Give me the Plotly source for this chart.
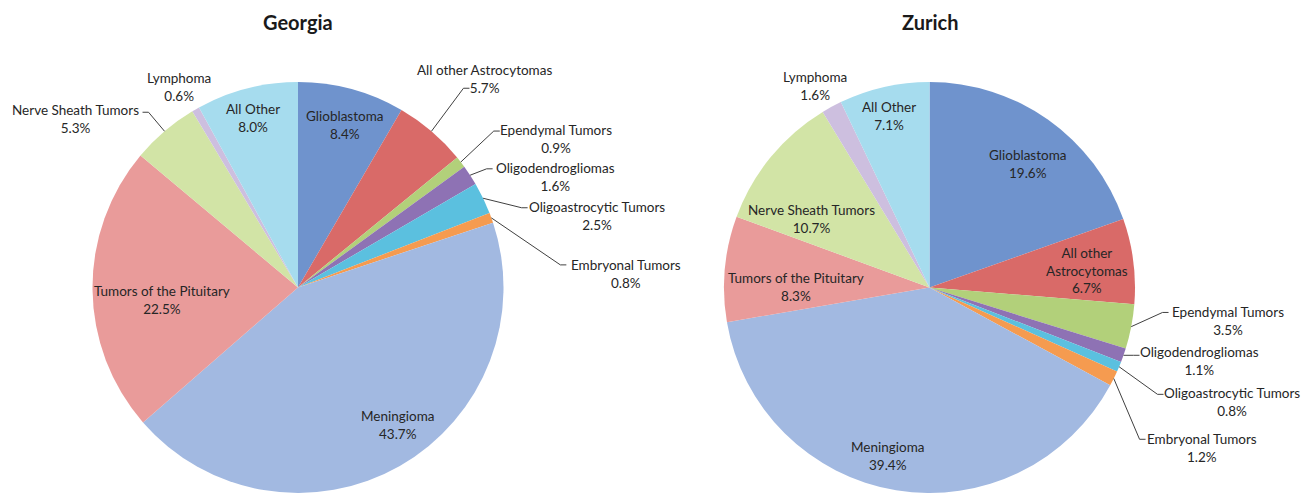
import math
import plotly.graph_objects as go

W, H = 1309, 493

categories = ["Glioblastoma", "All other Astrocytomas", "Ependymal Tumors", "Oligodendrogliomas",
              "Oligoastrocytic Tumors", "Embryonal Tumors", "Meningioma", "Tumors of the Pituitary",
              "Nerve Sheath Tumors", "Lymphoma", "All Other"]
georgia_pct = [8.4, 5.7, 0.9, 1.6, 2.5, 0.8, 43.7, 22.5, 5.3, 0.6, 8.0]
zurich_pct = [19.6, 6.7, 3.5, 1.1, 0.8, 1.2, 39.4, 8.3, 10.7, 1.6, 7.1]
titles = ["Georgia", "Zurich"]

colors = ["#6F93CD", "#D96A68", "#B2D07A", "#8E72B4", "#5BC0DF", "#F59B50",
          "#A2B9E1", "#E99B9A", "#D2E4A6", "#CDBFDF", "#A6DCEE"]

FONT = "Lato"
TXT = "#262626"

# label placement styles (in: radius fraction + nudge; out: text / leader offsets from slice edge)
georgia_lbl = [
    dict(k=0.82, n=(3, 0)),
    dict(t=(53, -52), l=(38, -43)),
    dict(t=(95, -23), l=(39, -31)),
    dict(t=(85.5, 1.6), l=(22.5, -6.4)),
    dict(t=(113.5, 18), l=(44.5, 9.5)),
    dict(t=(135, 56), l=(75, 47)),
    dict(k=0.771, n=(21, 0)),
    dict(k=0.66, n=(0, 11)),
    dict(t=(-89, -12), l=(-22, -19)),
    dict(t=(-17, -22)),
    dict(k=0.85, n=(-2, 0)),
]
zurich_lbl = [
    dict(k=0.734, n=(11, 0)),
    dict(k=0.771, n=(0, 3), name="All other<br>Astrocytomas"),
    dict(t=(96.3, -5.2), l=(37.3, -14.2)),
    dict(t=(76, 6), l=(16, 0)),
    dict(t=(112.4, 35), l=(44.4, 27.6)),
    dict(t=(87.8, 69.8), l=(31.8, 60.8)),
    dict(k=0.831, n=(-14, 0)),
    dict(k=0.651, n=(0, 11.7)),
    dict(k=0.745, n=(0, 28.5)),
    dict(t=(-17, -21)),
    dict(k=0.856, n=(-2, 0)),
]

# pie domains in pixels (x0, x1), top edge of pies
top_px = 82
domains_px = [(92.5, 503.5), (724.0, 1135.0)]

fig = go.Figure()
annotations = []
shapes = []

def to_paper(px, py):
    return px / W, 1 - py / H

for pi, (vals, lbls, title, (x0, x1)) in enumerate(zip([georgia_pct, zurich_pct],
                                                       [georgia_lbl, zurich_lbl], titles, domains_px)):
    ydom = [0.0, 1 - top_px / H]
    fig.add_trace(go.Pie(
        labels=categories, values=vals, sort=False, direction="clockwise", rotation=0,
        marker=dict(colors=colors, line=dict(width=0)), textinfo="none",
        domain=dict(x=[x0 / W, x1 / W], y=ydom), showlegend=False, hoverinfo="label+percent",
    ))
    cx = (x0 + x1) / 2
    r = (H - top_px) / 2
    cy = H - r
    total = sum(vals)
    cum = 0.0
    for i, v in enumerate(vals):
        mid = (cum + v / 2) / total
        cum += v
        ang = 2 * math.pi * mid
        sx, sy = math.sin(ang), -math.cos(ang)
        spec = lbls[i]
        name = spec.get("name", categories[i])
        text = f"{name}<br>{v:.1f}%"
        if "k" in spec:
            tx = cx + spec["k"] * r * sx + spec["n"][0]
            ty = cy + spec["k"] * r * sy + spec["n"][1]
        else:
            ex, ey = cx + r * sx, cy + r * sy
            tx, ty = ex + spec["t"][0], ey + spec["t"][1]
            if "l" in spec:
                lx, ly = ex + spec["l"][0], ey + spec["l"][1]
                bx = lx - 6 * (1 if spec["l"][0] > 0 else -1)
                p = [to_paper(ex, ey), to_paper(bx, ly), to_paper(lx, ly)]
                shapes.append(dict(type="path", xref="paper", yref="paper",
                                   path=f"M {p[0][0]},{p[0][1]} L {p[1][0]},{p[1][1]} L {p[2][0]},{p[2][1]}",
                                   line=dict(color="#404040", width=1)))
        ax, ay = to_paper(tx, ty)
        annotations.append(dict(x=ax, y=ay, xref="paper", yref="paper", text=text, showarrow=False,
                                xanchor="center", yanchor="middle", align="center",
                                font=dict(family=FONT, size=13.5, color=TXT)))
    tx, ty = to_paper(cx, 22)
    annotations.append(dict(x=tx, y=ty, xref="paper", yref="paper", text=f"<b>{title}</b>",
                            showarrow=False, xanchor="center", yanchor="middle",
                            font=dict(family=FONT, size=20, color="#1a1a1a")))

fig.update_layout(width=W, height=H, margin=dict(l=0, r=0, t=0, b=0),
                  paper_bgcolor="white", plot_bgcolor="white",
                  annotations=annotations, shapes=shapes, font=dict(family=FONT))

fig.write_html("out.html", config={"displayModeBar": False},
               post_script="document.body.style.margin='0';document.body.style.overflow='hidden';")
